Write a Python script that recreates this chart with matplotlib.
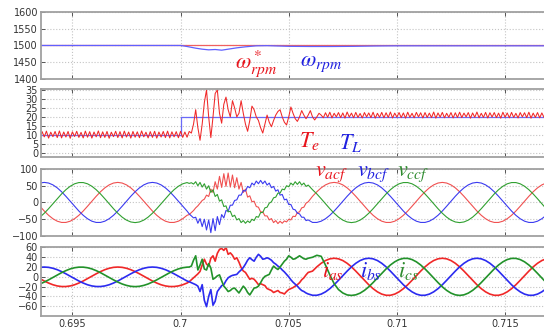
import numpy as np
import matplotlib
matplotlib.use("Agg")
from matplotlib import pyplot as plt

plt.rcParams['mathtext.fontset'] = 'stix'
plt.rcParams['font.family'] = ['DejaVu Sans']

# sampling of the wave traces: (start, step, count) for the three stretches
wave_segments = [(0.6935, 0.0002, 35), (0.7004, 0.0001, 56), (0.7061, 0.0002, 55)]
torque_start, torque_step = 0.6935, 0.0001

# speed (rpm)
speed_t = [0.6935, 0.7000, 0.7003, 0.7007, 0.7010, 0.7013, 0.7016, 0.7019, 0.7022, 0.7026,
           0.7030, 0.7035, 0.7040, 0.7045, 0.7050, 0.7060, 0.7070, 0.7080, 0.7090, 0.7100, 0.7168]
speed_ref = [1500] * len(speed_t)
speed_act = [1500, 1500, 1497, 1492, 1489, 1487, 1488, 1486, 1489, 1493,
             1496, 1499, 1499.5, 1498.5, 1497.5, 1497, 1497, 1497.5, 1498.5, 1499, 1499]

# load torque step and electromagnetic torque
tl_t = [0.6935, 0.7000, 0.7000, 0.7168]
tl_v = [10, 10, 20, 20]
te_v = [
    8.4, 11.8, 8.9, 12.1, 8.2, 11.5, 9.0, 11.9, 8.5, 12.2,
    8.3, 11.6, 8.8, 11.9, 8.1, 11.7, 9.1, 12.0, 8.6, 11.4,
    8.3, 12.1, 8.7, 11.8, 8.2, 11.6, 8.9, 12.2, 8.4, 11.7,
    8.6, 11.9, 8.1, 11.5, 9.0, 12.0, 8.5, 11.8, 8.3, 12.1,
    8.8, 11.6, 8.2, 11.9, 8.7, 11.7, 8.4, 12.2, 8.9, 11.5,
    8.3, 11.8, 8.6, 12.0, 8.2, 11.6, 8.8, 11.9, 8.5, 12.1,
    8.3, 11.7, 8.9, 11.8, 8.4, 12.0, 8.6, 11.6, 8.7, 11.9,
    11, 16, 24, 14, 7, 16, 28, 35, 20, 8.5,
    20, 33, 35, 22, 16.5, 27, 31, 24, 20, 29,
    25, 20, 22, 29, 22, 16, 12, 18, 26, 24,
    20, 18, 14, 11, 16, 21, 17, 14.5, 18, 21,
    23, 24, 20, 17, 15.5, 20, 25.5, 22, 19, 17.5,
    20, 23.5, 21, 19, 21, 23.5, 20, 18.3, 20, 22,
    21,
    19.5, 22.3, 19.8, 22.6, 19.4, 22.0, 20.0, 22.4, 19.6, 22.2,
    19.3, 22.7, 19.9, 22.1, 19.5, 22.5, 19.7, 21.9, 19.4, 22.4,
    20.0, 22.2, 19.6, 22.6, 19.3, 22.0, 19.8, 22.5, 19.5, 22.3,
    19.7, 22.7, 19.4, 22.1, 19.9, 22.4, 19.6, 22.2, 19.3, 22.6,
    19.8, 22.0, 19.5, 22.5, 20.0, 22.3, 19.4, 22.4, 19.7, 22.1,
    19.6, 22.7, 19.3, 22.2, 19.9, 22.5, 19.5, 22.0, 19.8, 22.4,
    19.4, 22.3, 19.7, 22.6, 19.6, 22.1, 20.0, 22.4, 19.3, 22.2,
    19.8, 22.7, 19.5, 22.0, 19.7, 22.5, 19.4, 22.3, 19.9, 22.4,
    19.6, 22.1, 19.3, 22.6, 19.8, 22.2, 19.5, 22.5, 19.7, 22.0,
    19.4, 22.4, 20.0, 22.3, 19.6, 22.6, 19.3, 22.1, 19.7, 22.4,
    19.5, 22.2, 19.8,
]

# filter voltages
v_a = [
    -11.2, -25.5, -38.2, -48.5, -55.8, -59.5, -59.5, -55.8, -48.5, -38.2,
    -25.5, -11.2, 3.8, 18.5, 32.1, 43.7, 52.6, 58.1, 60, 58.1,
    52.6, 43.7, 32.1, 18.5, 3.8, -11.2, -25.5, -38.2, -48.5, -55.8,
    -59.5, -59.5, -55.8, -48.5, -38.2,
    -36, -30, -24, -16, -10, -2, 6, 10, 22, 18,
    40, 30, 62, 40, 78, 45, 86, 48, 88, 46,
    82, 44, 74, 40, 60, 30, 40, 16, 20, 2,
    4, -12, -14, -28, -28, -40, -40, -52, -48, -60,
    -54, -63, -56, -62, -55, -58, -50, -52, -41, -42,
    -30, -28, -16, -14, -2, 2,
    18.5, 32.1, 43.7, 52.6, 58.1, 60, 58.1, 52.6, 43.7, 32.1,
    18.5, 3.8, -11.2, -25.5, -38.2, -48.5, -55.8, -59.5, -59.5, -55.8,
    -48.5, -38.2, -25.5, -11.2, 3.8, 18.5, 32.1, 43.7, 52.6, 58.1,
    60, 58.1, 52.6, 43.7, 32.1, 18.5, 3.8, -11.2, -25.5, -38.2,
    -48.5, -55.8, -59.5, -59.5, -55.8, -48.5, -38.2, -25.5, -11.2, 3.8,
    18.5, 32.1, 43.7, 52.6, 58.1,
]
v_b = [
    58.1, 60, 58.1, 52.6, 43.7, 32.1, 18.5, 3.8, -11.2, -25.5,
    -38.2, -48.5, -55.8, -59.5, -59.5, -55.8, -48.5, -38.2, -25.5, -11.2,
    3.8, 18.5, 32.1, 43.7, 52.6, 58.1, 60, 58.1, 52.6, 43.7,
    32.1, 18.5, 3.8, -11.2, -25.5,
    -34, -40, -46, -44, -62, -48, -72, -50, -82, -52,
    -90, -48, -84, -42, -66, -36, -46, -24, -26, -8,
    -8, 6, 8, 22, 22, 36, 34, 48, 44, 58,
    52, 64, 56, 66, 56, 64, 52, 58, 44, 48,
    34, 38, 22, 24, 8, 10, -6, -6, -20, -22,
    -32, -34, -44, -44, -54, -52,
    -59.5, -59.5, -55.8, -48.5, -38.2, -25.5, -11.2, 3.8, 18.5, 32.1,
    43.7, 52.6, 58.1, 60, 58.1, 52.6, 43.7, 32.1, 18.5, 3.8,
    -11.2, -25.5, -38.2, -48.5, -55.8, -59.5, -59.5, -55.8, -48.5, -38.2,
    -25.5, -11.2, 3.8, 18.5, 32.1, 43.7, 52.6, 58.1, 60, 58.1,
    52.6, 43.7, 32.1, 18.5, 3.8, -11.2, -25.5, -38.2, -48.5, -55.8,
    -59.5, -59.5, -55.8, -48.5, -38.2,
]
v_c = [
    -43.7, -32.1, -18.5, -3.8, 11.2, 25.5, 38.2, 48.5, 55.8, 59.5,
    59.5, 55.8, 48.5, 38.2, 25.5, 11.2, -3.8, -18.5, -32.1, -43.7,
    -52.6, -58.1, -60, -58.1, -52.6, -43.7, -32.1, -18.5, -3.8, 11.2,
    25.5, 38.2, 48.5, 55.8, 59.5,
    57, 59, 55, 62, 50, 60, 46, 56, 40, 50,
    30, 38, 18, 24, 4, 8, -12, -10, -28, -26,
    -42, -38, -52, -48, -60, -54, -62, -55, -60, -50,
    -54, -42, -44, -30, -30, -16, -14, -2, 2, 14,
    16, 28, 28, 40, 38, 50, 47, 58, 52, 62,
    54, 62, 52, 58, 48, 52,
    38.2, 25.5, 11.2, -3.8, -18.5, -32.1, -43.7, -52.6, -58.1, -60,
    -58.1, -52.6, -43.7, -32.1, -18.5, -3.8, 11.2, 25.5, 38.2, 48.5,
    55.8, 59.5, 59.5, 55.8, 48.5, 38.2, 25.5, 11.2, -3.8, -18.5,
    -32.1, -43.7, -52.6, -58.1, -60, -58.1, -52.6, -43.7, -32.1, -18.5,
    -3.8, 11.2, 25.5, 38.2, 48.5, 55.8, 59.5, 59.5, 55.8, 48.5,
    38.2, 25.5, 11.2, -3.8, -18.5,
]

# stator currents
i_a = [
    -3.7, -8.5, -12.7, -16.2, -18.6, -19.8, -19.8, -18.6, -16.2, -12.7,
    -8.5, -3.7, 1.3, 6.2, 10.7, 14.6, 17.5, 19.4, 20, 19.4,
    17.5, 14.6, 10.7, 6.2, 1.3, -3.7, -8.5, -12.7, -16.2, -18.6,
    -19.8, -19.8, -18.6, -16.2, -12.7,
    -10, -6, -2, 2, 6, 11, 24, 36, 26, 22,
    38, 43, 32, 48, 56, 58, 54, 60, 46, 49,
    44, 36, 39, 30, 19, 12, 9, 2, -5, -3,
    -5, -10, -16, -14, -16, -18, -24, -26, -28, -32,
    -30, -28, -32, -33, -35, -30, -26, -24, -22, -19,
    -16, -12, -6, -2, 4, 9,
    11.7, 20.4, 27.7, 33.3, 36.8, 38, 36.8, 33.3, 27.7, 20.4,
    11.7, 2.4, -7.1, -16.2, -24.2, -30.7, -35.3, -37.7, -37.7, -35.3,
    -30.7, -24.2, -16.2, -7.1, 2.4, 11.7, 20.4, 27.7, 33.3, 36.8,
    38, 36.8, 33.3, 27.7, 20.4, 11.7, 2.4, -7.1, -16.2, -24.2,
    -30.7, -35.3, -37.7, -37.7, -35.3, -30.7, -24.2, -16.2, -7.1, 2.4,
    11.7, 20.4, 27.7, 33.3, 36.8,
]
i_b = [
    19.4, 20, 19.4, 17.5, 14.6, 10.7, 6.2, 1.3, -3.7, -8.5,
    -12.7, -16.2, -18.6, -19.8, -19.8, -18.6, -16.2, -12.7, -8.5, -3.7,
    1.3, 6.2, 10.7, 14.6, 17.5, 19.4, 20, 19.4, 17.5, 14.6,
    10.7, 6.2, 1.3, -3.7, -8.5,
    -10, -12, -14, -16, -19, -30, -16, -48, -61, -40,
    -26, -58, -50, -30, -24, -18, -16, -8, -2, 1,
    3, 4, 5, 10, 14, 19, 26, 34, 39, 35,
    32, 40, 46, 42, 36, 37, 39, 37, 34, 29,
    26, 22, 19, 14, 10, 5, 0, -6, -11, -15,
    -19, -24, -28, -30, -33, -35,
    -37.7, -37.7, -35.3, -30.7, -24.2, -16.2, -7.1, 2.4, 11.7, 20.4,
    27.7, 33.3, 36.8, 38, 36.8, 33.3, 27.7, 20.4, 11.7, 2.4,
    -7.1, -16.2, -24.2, -30.7, -35.3, -37.7, -37.7, -35.3, -30.7, -24.2,
    -16.2, -7.1, 2.4, 11.7, 20.4, 27.7, 33.3, 36.8, 38, 36.8,
    33.3, 27.7, 20.4, 11.7, 2.4, -7.1, -16.2, -24.2, -30.7, -35.3,
    -37.7, -37.7, -35.3, -30.7, -24.2,
]
i_c = [
    -14.6, -10.7, -6.2, -1.3, 3.7, 8.5, 12.7, 16.2, 18.6, 19.8,
    19.8, 18.6, 16.2, 12.7, 8.5, 3.7, -1.3, -6.2, -10.7, -14.6,
    -17.5, -19.4, -20, -19.4, -17.5, -14.6, -10.7, -6.2, -1.3, 3.7,
    8.5, 12.7, 16.2, 18.6, 19.8,
    20, 22, 34, 43, 14, 24, 36, 16, 14, 27,
    18, -5, -2, 2, 4, -8, -19, -24, -30, -28,
    -24, -23, -28, -33, -26, -19, -24, -32, -37, -30,
    -23, -22, -19, -12, -4, 1, 3, 5, 14, 22,
    18, 15, 20, 26, 32, 36, 43, 40, 36, 37,
    40, 43, 40, 37, 36, 38,
    40, 44, 42, 24, 4, -14, -26, -33, -37, -38,
    -36.8, -33.3, -27.7, -20.4, -11.7, -2.4, 7.1, 16.2, 24.2, 30.7,
    35.3, 37.7, 37.7, 35.3, 30.7, 24.2, 16.2, 7.1, -2.4, -11.7,
    -20.4, -27.7, -33.3, -36.8, -38, -36.8, -33.3, -27.7, -20.4, -11.7,
    -2.4, 7.1, 16.2, 24.2, 30.7, 35.3, 37.7, 37.7, 35.3, 30.7,
    24.2, 16.2, 7.1, -2.4, -11.7,
]

x_ticks = [0.695, 0.7, 0.705, 0.71, 0.715]
x_labels = ['0.695', '0.7', '0.705', '0.71', '0.715']

t_wave = np.concatenate([s + d * np.arange(n) for s, d, n in wave_segments])
t_te = torque_start + torque_step * np.arange(len(te_v))

RED, BLUE, GREEN = '#f02828', '#2b2bf0', '#22922a'

fig = plt.figure(figsize=(5.44, 3.33), dpi=100)
L, W = 0.075, 0.925
ax1 = fig.add_axes([L, 0.7628, W, 0.2012])
ax2 = fig.add_axes([L, 0.5285, W, 0.2042])
ax3 = fig.add_axes([L, 0.2913, W, 0.2012])
ax4 = fig.add_axes([L, 0.0511, W, 0.2072])

ax1.plot(speed_t, speed_ref, color='#f06060', lw=0.9)
ax1.plot(speed_t, speed_act, color='#6060ff', lw=0.9)
ax1.set_ylim(1400, 1600)
ax1.set_yticks([1400, 1450, 1500, 1550, 1600])

ax2.plot(tl_t, tl_v, color='#6a6af8', lw=0.9)
ax2.plot(t_te, te_v, color=RED, lw=0.75)
ax2.set_ylim(-2.3, 35.5)
ax2.set_yticks([0, 5, 10, 15, 20, 25, 30, 35])

ax3.plot(t_wave, v_a, color='#f05050', lw=0.8)
ax3.plot(t_wave, v_b, color='#3a3af0', lw=0.8)
ax3.plot(t_wave, v_c, color='#30a030', lw=0.8)
ax3.set_ylim(-100, 100)
ax3.set_yticks([-100, -50, 0, 50, 100])

ax4.plot(t_wave, i_a, color=RED, lw=1.2)
ax4.plot(t_wave, i_b, color=BLUE, lw=1.2)
ax4.plot(t_wave, i_c, color=GREEN, lw=1.2)
ax4.set_ylim(-80, 61)
ax4.set_yticks([-60, -40, -20, 0, 20, 40, 60])

for ax in (ax1, ax2, ax3, ax4):
    ax.set_xlim(0.69354, 0.7168)
    ax.set_xticks(x_ticks)
    ax.grid(True, color='#c4c4c4', ls=':', lw=0.8)
    ax.tick_params(direction='in', length=3, width=0.7, color='#555555',
                   labelsize=7, labelcolor='#333333', top=True, pad=2)
    ax.spines['right'].set_visible(False)
    for s in ('left', 'top', 'bottom'):
        ax.spines[s].set_color('#a0a0a0')
        ax.spines[s].set_linewidth(1.3)
    if ax is not ax4:
        ax.tick_params(labelbottom=False)
ax4.set_xticklabels(x_labels)

fs = 16
ax1.text(0.70253, 1445, r'$\omega^*_{rpm}$', color='#e8141c', fontsize=fs, va='center')
ax1.text(0.70553, 1445, r'$\omega_{rpm}$', color='#2020e0', fontsize=fs, va='center')
ax2.text(0.70547, 6.5, r'$T_e$', color='#e8141c', fontsize=fs, va='center')
ax2.text(0.70731, 5.5, r'$T_L$', color='#2020e0', fontsize=fs, va='center')
ax3.text(0.70622, 84, r'$v_{acf}$', color='#e8141c', fontsize=fs, va='center')
ax3.text(0.70814, 84, r'$v_{bcf}$', color='#2020e0', fontsize=fs, va='center')
ax3.text(0.70999, 84, r'$v_{ccf}$', color='#2e8b2e', fontsize=fs, va='center')
ax4.text(0.70653, 12, r'$i_{as}$', color='#e8141c', fontsize=fs, va='center')
ax4.text(0.7083, 12, r'$i_{bs}$', color='#2020e0', fontsize=fs, va='center')
ax4.text(0.71007, 12, r'$i_{cs}$', color='#2e8b2e', fontsize=fs, va='center')

plt.savefig('out.png', dpi=100)
plt.close()
